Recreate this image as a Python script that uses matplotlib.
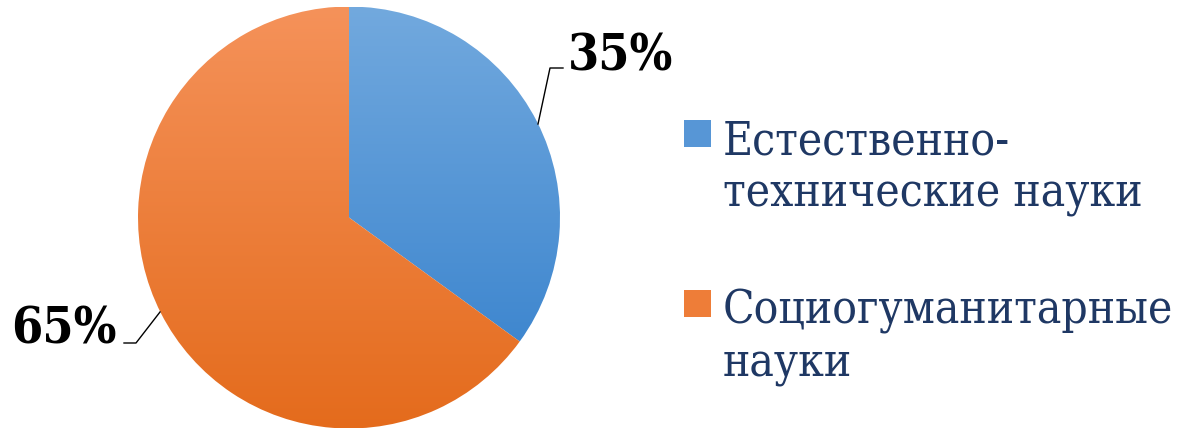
import numpy as np
import matplotlib.pyplot as plt
from matplotlib.colors import LinearSegmentedColormap

labels = ['Естественно-\nтехнические науки', 'Социогуманитарные\nнауки']
values = [35, 65]
pct_text = ['35%', '65%']
top_colors = ['#72a9de', '#f5925a']
bottom_colors = ['#3f87cf', '#e46b1c']

W, H = 1199, 429
fig = plt.figure(figsize=(W / 100, H / 100), dpi=100)

cx, cy, r = 349, 211.5, 211
ax = fig.add_axes([(cx - r) / W, (cy - r) / H, 2 * r / W, 2 * r / H])
wedges, _ = ax.pie(values, startangle=90, counterclock=False, radius=1,
                   colors=top_colors, wedgeprops=dict(linewidth=0))
ax.set_aspect('equal')
ax.axis('off')

for w, c1, c2 in zip(wedges, top_colors, bottom_colors):
    verts = w.get_path().vertices
    y0, y1 = verts[:, 1].min(), verts[:, 1].max()
    x0, x1 = verts[:, 0].min(), verts[:, 0].max()
    cmap = LinearSegmentedColormap.from_list('g', [c2, c1])
    grad = np.linspace(0, 1, 256).reshape(-1, 1)
    im = ax.imshow(grad, cmap=cmap, origin='lower', aspect='auto',
                   extent=[x0, x1, y0, y1], zorder=2)
    im.set_clip_path(w)
    w.set_facecolor('none')
ax.set_xlim(-1, 1)
ax.set_ylim(-1, 1)

def px(x, y):
    return ((x - cx) / r, ((H - y) - cy) / r)

lines = [[(538, 124), (550, 68), (563, 68)],
         [(160, 312), (136, 343), (124, 343)]]
for pts in lines:
    xy = np.array([px(*p) for p in pts])
    ax.plot(xy[:, 0], xy[:, 1], color='black', lw=1, zorder=3, clip_on=False)

pct_pos = [(568, 57, 'left'), (117, 330, 'right')]
for t, (x, y, ha) in zip(pct_text, pct_pos):
    fig.text(x / W, (H - y) / H, t, ha=ha, va='center', fontsize=36,
             fontweight='bold', family='DejaVu Serif', fontstretch='condensed',
             color='black')

text_color = '#1f3864'
leg_y = [134, 304]
text_y = [168, 338]
mid_colors = ['#5796d6', '#ee7d38']
for i, lab in enumerate(labels):
    fig.patches.append(plt.Rectangle((684 / W, (H - leg_y[i] - 13) / H), 27 / W, 27 / H,
                                     transform=fig.transFigure, facecolor=mid_colors[i],
                                     edgecolor='none'))
    fig.text(723 / W, (H - text_y[i]) / H, lab, ha='left', va='center', fontsize=33,
             family='DejaVu Serif', fontstretch='condensed', color=text_color,
             linespacing=1.2)

fig.savefig('out.png', dpi=100)
